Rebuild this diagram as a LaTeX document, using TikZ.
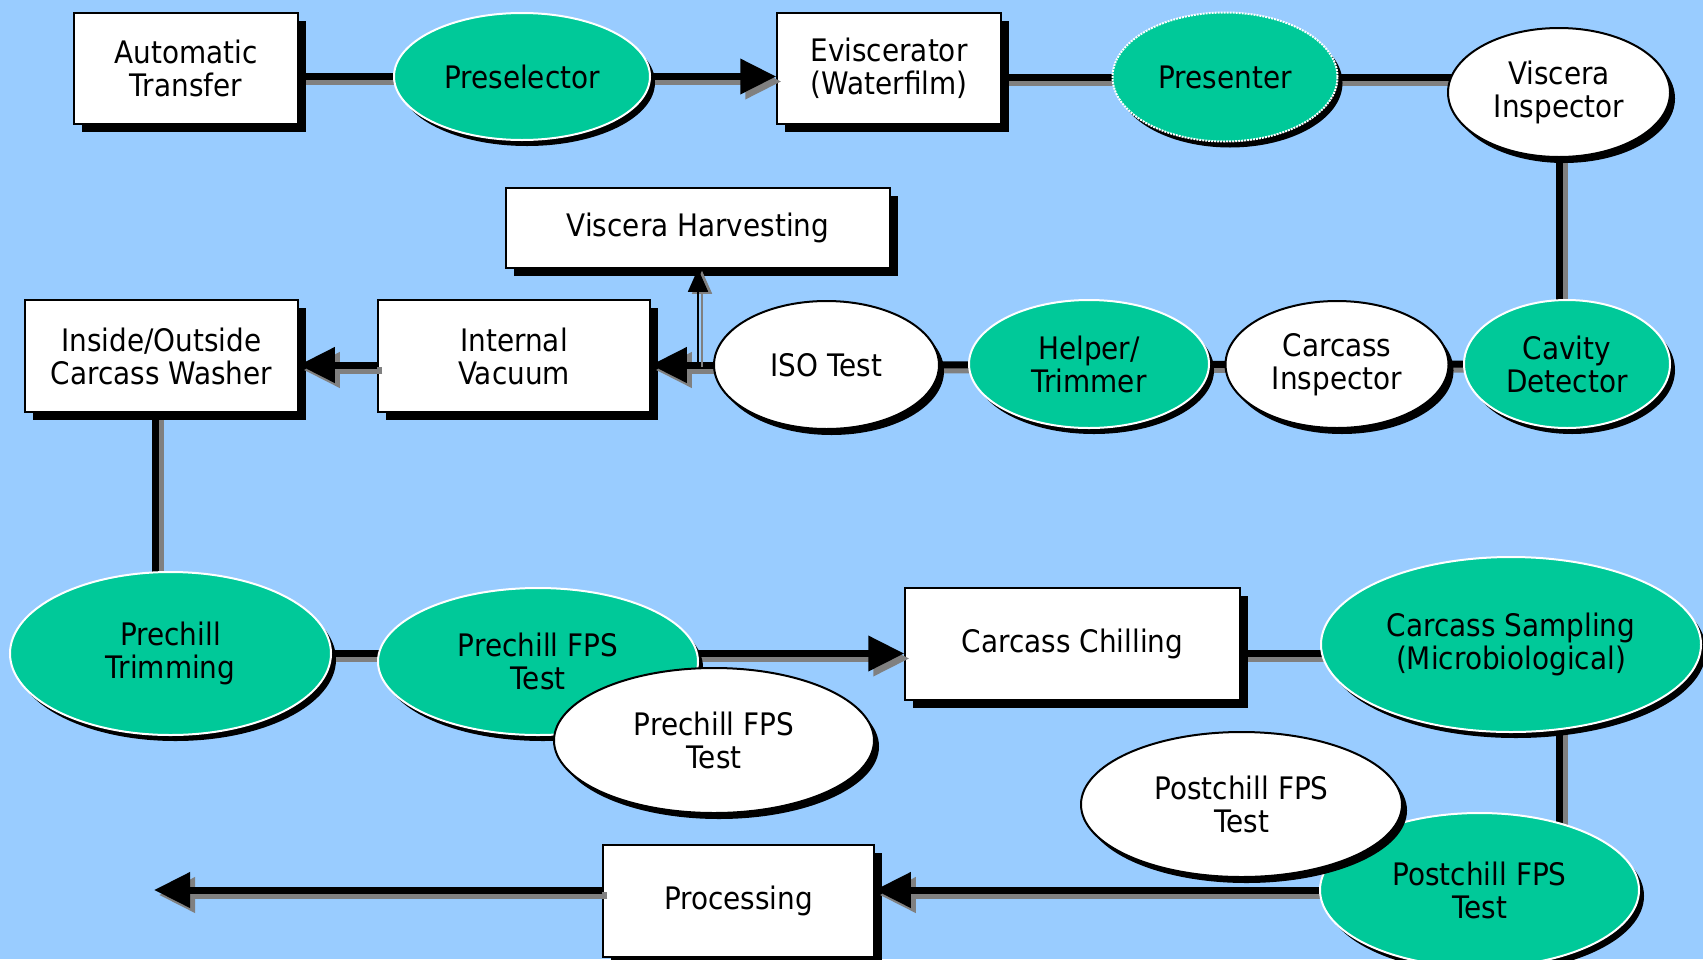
\documentclass[tikz,border=0pt]{standalone}
\usepackage{fontspec}
\setmainfont{DejaVu Sans}[FakeStretch=0.9]
\usetikzlibrary{shapes.geometric,arrows.meta,shadows,backgrounds}

\definecolor{skyblue}{HTML}{99CCFF}
\definecolor{flowgreen}{HTML}{00C999}
\definecolor{linkgray}{HTML}{808080}

\pgfdeclarelayer{boxlayer}
\pgfdeclarelayer{flowlayer}
\pgfsetlayers{background,boxlayer,flowlayer,main}

\tikzset{
  stepbox/.style={draw=black, line width=1.5pt, fill=white, inner sep=0pt, align=center,
    drop shadow={shadow xshift=8pt, shadow yshift=-8pt, opacity=1, fill=black}},
  oval/.style={ellipse, line width=2pt, inner sep=0pt, align=center,
    drop shadow={shadow xshift=5pt, shadow yshift=-6pt, opacity=1, fill=black}},
  greenoval/.style={oval, draw=white, fill=flowgreen},
  whiteoval/.style={oval, draw=black, fill=white},
  link/.style={line width=7pt},
  flow/.style={link, -{Triangle[length=36pt, width=34pt]}},
  thinflow/.style={line width=1.5pt, -{Triangle[length=23pt, width=20pt]}},
  linkshadow/.style={draw=linkgray, transform canvas={shift={(5pt,-5pt)}}}
}
% a connector with its grey shadow under it
\newcommand{\shadowlink}[2]{%
  \draw[#1, linkshadow] #2;
  \draw[#1] #2;}

\begin{document}
\begin{tikzpicture}[x=1pt, y=-1pt, font=\fontsize{31}{33}\selectfont]
  \useasboundingbox (0,0) rectangle (1703,959);

  % ovals
  \node[greenoval, minimum width=256pt, minimum height=127pt] (presel) at (522,76.5) {Preselector};
  \node[greenoval, densely dotted, minimum width=225pt, minimum height=129pt] (presenter) at (1225,77) {Presenter};
  \node[whiteoval, minimum width=222pt, minimum height=129pt] (visinsp) at (1559,92.5) {Viscera\\Inspector};
  \node[greenoval, minimum width=206pt, minimum height=128pt] (cavity) at (1567,364) {Cavity\\Detector};
  \node[whiteoval, minimum width=223pt, minimum height=127pt] (carcinsp) at (1337,364.5) {Carcass\\Inspector};
  \node[greenoval, minimum width=240pt, minimum height=128pt] (helper) at (1089,364) {Helper/\\Trimmer};
  \node[whiteoval, minimum width=225pt, minimum height=128pt] (iso) at (826.5,365) {ISO Test};
  \node[greenoval, minimum width=321pt, minimum height=163pt] (trim) at (170.5,653.5) {Prechill\\Trimming};
  \node[greenoval, minimum width=320pt, minimum height=147pt] (fpsg) at (538,661.5) {Prechill FPS\\Test};
  \node[whiteoval, minimum width=320pt, minimum height=145pt] (fpsw) at (714,740.5) {Prechill FPS\\Test};
  \node[greenoval, minimum width=380pt, minimum height=175pt] (sampling) at (1511,644.5) {Carcass Sampling\\(Microbiological)};
  \node[greenoval, minimum width=319pt, minimum height=154pt] (postg) at (1479.5,890) {Postchill FPS\\Test};
  \node[whiteoval, minimum width=321pt, minimum height=145pt] (postw) at (1241.5,804.5) {Postchill FPS\\Test};

  % boxes
  \begin{pgfonlayer}{boxlayer}
    \node[stepbox, minimum width=224pt, minimum height=111pt] (auto) at (186,68.5) {Automatic\\Transfer};
    \node[stepbox, minimum width=224pt, minimum height=111pt] (evisc) at (889,68.5) {Eviscerator\\(Waterfilm)};
    \node[stepbox, minimum width=384pt, minimum height=80pt] (harv) at (698,228) {Viscera Harvesting};
    \node[stepbox, minimum width=273pt, minimum height=112pt] (inside) at (161.5,356) {Inside/Outside\\Carcass Washer};
    \node[stepbox, minimum width=272pt, minimum height=112pt] (intvac) at (514,356) {Internal\\Vacuum};
    \node[stepbox, minimum width=335pt, minimum height=112pt] (chill) at (1072.5,644) {Carcass Chilling};
    \node[stepbox, minimum width=271pt, minimum height=112pt] (proc) at (738.5,901) {Processing};
  \end{pgfonlayer}
  \coordinate (exit) at (154,890);

  % arrows
  \begin{pgfonlayer}{flowlayer}
    \shadowlink{flow}{(presel.center) -- (presel.center -| evisc.west)}
    \shadowlink{flow}{(iso.center) -- (iso.center -| intvac.east)}
    \shadowlink{flow}{(iso.center -| intvac.west) -- (iso.center -| inside.east)}
    \draw[thinflow, linkgray, transform canvas={shift={(4pt,-2pt)}}] (harv.south |- iso.center) -- (harv.south);
    \draw[thinflow] (harv.south |- iso.center) -- (harv.south);
    \shadowlink{flow}{(fpsg.center |- trim.center) -- (trim.center -| chill.west)}
    \shadowlink{flow}{(postg.center) -- (postg.center -| proc.east)}
    \shadowlink{flow}{(postg.center -| proc.west) -- (exit)}
  \end{pgfonlayer}

  \begin{pgfonlayer}{background}
    \fill[skyblue] (0,0) rectangle (1703,959);
    \shadowlink{link}{(presel.center -| auto.east) -- (presel.center)}
    \shadowlink{link}{(presenter.center -| evisc.east) -- (presenter.center)}
    \shadowlink{link}{(presenter.center) -- (presenter.center -| visinsp.center)}
    \shadowlink{link}{(visinsp.center) -- (visinsp.center |- cavity.center)}
    \shadowlink{link}{(cavity.center) -- (iso.center)}
    \shadowlink{link}{([xshift=-6pt]inside.south) -- ([xshift=-6pt]inside.south |- trim.center)}
    \shadowlink{link}{(trim.center) -- (trim.center -| fpsg.center)}
    \shadowlink{link}{(trim.center -| chill.east) -- (trim.center -| sampling.center)}
    \shadowlink{link}{(visinsp.center |- sampling.center) -- (visinsp.center |- postg.center)}
  \end{pgfonlayer}
\end{tikzpicture}
\end{document}
